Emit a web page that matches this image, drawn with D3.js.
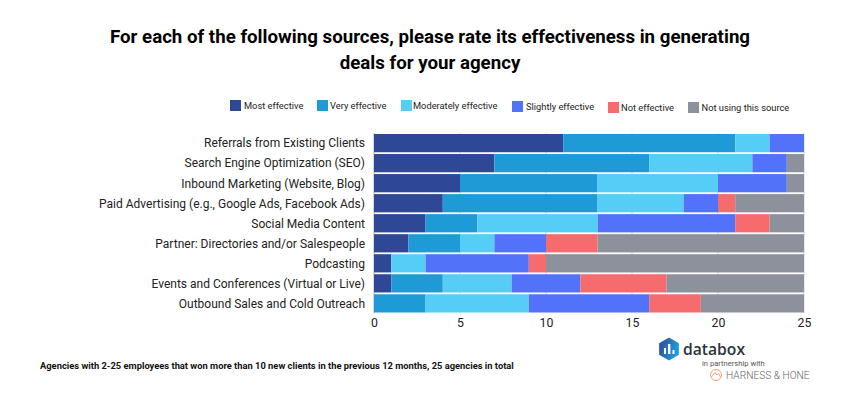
<!DOCTYPE html>
<html><head><meta charset="utf-8">
<script src="https://cdn.jsdelivr.net/npm/d3@7/dist/d3.min.js"></script>
<style>html,body{margin:0;padding:0;background:#fff}svg{display:block}text{font-family:Roboto,sans-serif}</style>
</head><body><svg id="c" width="850" height="400"></svg>
<script>
const categories=["Referrals from Existing Clients","Search Engine Optimization (SEO)","Inbound Marketing (Website, Blog)","Paid Advertising (e.g., Google Ads, Facebook Ads)","Social Media Content","Partner: Directories and/or Salespeople","Podcasting","Events and Conferences (Virtual or Live)","Outbound Sales and Cold Outreach"];
const seriesNames=["Most effective","Very effective","Moderately effective","Slightly effective","Not effective","Not using this source"];
const colors=["#2e4797","#1e9bd7","#55cdf7","#5272fa","#f66b6e","#8c919c"];
const mostEffective=[11,7,5,4,3,2,1,1,0];
const veryEffective=[10,9,8,9,3,3,0,3,3];
const moderatelyEffective=[2,6,7,5,7,2,2,4,6];
const slightlyEffective=[2,2,4,2,8,3,6,4,7];
const notEffective=[0,0,0,1,2,3,1,5,3];
const notUsing=[0,1,1,4,2,12,15,8,6];
const seriesValues=[mostEffective,veryEffective,moderatelyEffective,slightlyEffective,notEffective,notUsing];
const ticks=[0,5,10,15,20,25];
const titleLines=["For each of the following sources, please rate its effectiveness in generating","deals for your agency"];
const footnote="Agencies with 2-25 employees that won more than 10 new clients in the previous 12 months, 25 agencies in total";

const svg=d3.select("#c");
const x=d3.scaleLinear().domain([0,25]).range([374,804]);
const y=d3.scaleBand().domain(categories).range([134,312.5]).paddingInner(0.09).paddingOuter(0.0);

svg.selectAll("text.title").data(titleLines).join("text").attr("class","title")
 .attr("x",430).attr("y",(d,i)=>43+i*26).attr("text-anchor","middle")
 .attr("font-size",18.7).attr("font-weight",700).attr("fill","#000").text(d=>d);

// grid
svg.append("g").selectAll("line").data(ticks).join("line")
 .attr("x1",d=>x(d)).attr("x2",d=>x(d)).attr("y1",133).attr("y2",313)
 .attr("stroke",(d,i)=>i==0?"#b0b0b0":"#d9d9d9").attr("stroke-width",1);

seriesValues.forEach((vals,s)=>{
  svg.append("g").selectAll("rect").data(categories).join("rect")
   .attr("x",(c,i)=>x(d3.sum(seriesValues.slice(0,s),v=>v[i])))
   .attr("width",(c,i)=>x(vals[i])-x(0))
   .attr("y",c=>y(c)).attr("height",y.bandwidth()).attr("fill",colors[s]);
});

const ya=d3.axisLeft(y).tickSize(0).tickPadding(9);
const gy=svg.append("g").attr("transform","translate(374,0.5)").call(ya);
gy.select(".domain").remove();
gy.selectAll("text").attr("font-size",12).attr("fill","#222").style("font-family","Roboto");

const xa=d3.axisBottom(x).tickValues(ticks).tickSize(0).tickPadding(0);
const gx=svg.append("g").attr("transform","translate(0,318.5)").call(xa);
gx.select(".domain").remove();
gx.selectAll("text").attr("font-size",12.3).attr("fill","#222").attr("dy","0.71em").style("font-family","Roboto");

// legend
const swX=[230,317,401,512,608,688], txX=[244,330,413,526,621,701.5], legY=[100,100,100,101,102,102];
seriesNames.forEach((n,i)=>{
  svg.append("rect").attr("x",swX[i]).attr("y",legY[i]).attr("width",11).attr("height",11).attr("fill",colors[i]);
});
svg.selectAll("text.leg").data(seriesNames).join("text").attr("class","leg")
 .attr("x",(d,i)=>txX[i]).attr("y",(d,i)=>legY[i]+9)
 .attr("font-size",9.3).attr("fill","#222").text(d=>d);

svg.append("text").attr("x",40).attr("y",368.5).attr("font-size",9.35).attr("font-weight",700).attr("fill","#111").text(footnote);

// logo
const hex=d3.path();const cx=669,cy=349,r=10.5;
d3.range(6).forEach(k=>{const a=Math.PI/3*k-Math.PI/2;const px=cx+r*Math.cos(a),py=cy+r*Math.sin(a);k?hex.lineTo(px,py):hex.moveTo(px,py)});hex.closePath();
const defs=svg.append("defs");const lg=defs.append("linearGradient").attr("id","lg").attr("x1",0).attr("x2",1).attr("y1",0).attr("y2",0.4);
lg.append("stop").attr("offset",0).attr("stop-color","#33479a");lg.append("stop").attr("offset",1).attr("stop-color","#1e9bd7");
svg.append("path").attr("d",hex.toString()).attr("fill","url(#lg)").attr("stroke","url(#lg)").attr("stroke-width",1.5).attr("stroke-linejoin","round");
[[664,348,2,6],[668,344,2.4,10],[672.5,350,2,4]].forEach(b=>svg.append("rect").attr("x",b[0]).attr("y",b[1]).attr("width",b[2]).attr("height",b[3]).attr("fill","#fff"));
svg.append("text").attr("x",683).attr("y",355).attr("font-size",16).attr("font-weight",600).attr("fill","#2b3340").attr("textLength",62).attr("lengthAdjust","spacingAndGlyphs").style("font-family","'Open Sans'").text("databox");
svg.append("text").attr("x",702).attr("y",365.5).attr("font-size",7.6).attr("fill","#555").text("in partnership with");
svg.append("circle").attr("cx",716).attr("cy",375).attr("r",5.5).attr("fill","#fff").attr("stroke","#f3a27c").attr("stroke-width",1);
svg.append("path").attr("d","M711.5 377 L715 372.5 L717 375 L718.5 373.5 L720.5 377").attr("fill","none").attr("stroke","#f3a27c").attr("stroke-width",1);
svg.append("text").attr("x",726).attr("y",378.5).attr("font-size",10.2).attr("font-weight",300).attr("fill","#666").text("HARNESS & HONE");
</script></body></html>
